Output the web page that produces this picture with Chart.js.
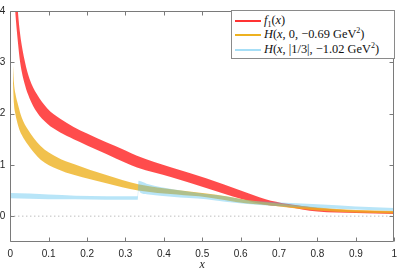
<!DOCTYPE html>
<html>
<head>
<meta charset="utf-8">
<script src="https://cdn.jsdelivr.net/npm/chart.js@4/dist/chart.umd.min.js"></script>
<style>
  html, body { margin: 0; padding: 0; background: #fff; }
  #wrap { position: relative; width: 403px; height: 271px; overflow: hidden; }
  #chart { position: absolute; left: -20px; top: 0; }
  #legend {
    position: absolute; left: 231px; top: 10px; width: 162px; height: 47px;
    border: 1px solid #8a8a8a; background: #fff;
    font-family: "Liberation Serif", "DejaVu Serif", serif; font-size: 12.4px; color: #111;
  }
  #legend .row { position: absolute; left: 0; height: 15px; line-height: 15px; white-space: nowrap; }
  #legend .swatch { position: absolute; left: 3px; top: 7px; width: 26px; height: 2px; }
  #legend .txt { position: absolute; left: 32px; top: 0; }
  #legend sub, #legend sup { font-size: 8px; line-height: 0; }
</style>
</head>
<body>
<div id="wrap">
  <canvas id="chart" width="423" height="275"></canvas>
  <div id="legend">
    <div class="row" style="top:2px"><span class="swatch" style="background:rgba(255,0,0,0.8)"></span><span class="txt"><i>f</i><sub>1</sub>(<i>x</i>)</span></div>
    <div class="row" style="top:16px"><span class="swatch" style="background:rgb(237,177,32)"></span><span class="txt"><i>H</i>(<i>x</i>, 0, −0.69 GeV<sup>2</sup>)</span></div>
    <div class="row" style="top:31px"><span class="swatch" style="background:rgba(77,190,237,0.5)"></span><span class="txt"><i>H</i>(<i>x</i>, |1/3|, −1.02 GeV<sup>2</sup>)</span></div>
  </div>
</div>
<script>
// tick labels
const xTickValues = [0, 0.1, 0.2, 0.3, 0.4, 0.5, 0.6, 0.7, 0.8, 0.9, 1];
const yTickValues = [0, 1, 2, 3, 4];

// f1(x) band
const redX     = [0.01, 0.0128, 0.0197, 0.0256, 0.0384, 0.05, 0.069, 0.0965, 0.13, 0.165, 0.2, 0.25, 0.3, 0.33, 0.42, 0.51, 0.6, 0.665, 0.72, 0.8, 0.9, 1.0];
const redUpper = [5.2, 4.8, 4.0, 3.55, 3.0, 2.68, 2.38, 2.1, 1.9, 1.74, 1.61, 1.44, 1.28, 1.18, 0.95, 0.74, 0.5, 0.33, 0.24, 0.16, 0.11, 0.09];
const redLower = [4.35, 4.0, 3.4, 3.0, 2.55, 2.3, 2.03, 1.8, 1.63, 1.5, 1.38, 1.21, 1.04, 0.95, 0.76, 0.55, 0.34, 0.22, 0.18, 0.09, 0.06, 0.04];

// H(x, 0, -0.69 GeV^2) band
const orangeX     = [0.007, 0.0095, 0.013, 0.021, 0.03, 0.045, 0.079, 0.122, 0.167, 0.25, 0.333, 0.434, 0.511, 0.562, 0.613, 0.69, 0.8, 0.9, 1.0];
const orangeUpper = [2.94, 2.6, 2.4, 2.15, 1.92, 1.7, 1.37, 1.15, 1.01, 0.8, 0.62, 0.51, 0.44, 0.39, 0.32, 0.25, 0.17, 0.12, 0.1];
const orangeLower = [2.6, 2.19, 2.0, 1.75, 1.58, 1.4, 1.1, 0.92, 0.8, 0.64, 0.5, 0.42, 0.37, 0.31, 0.25, 0.2, 0.11, 0.07, 0.05];

// H(x, |1/3|, -1.02 GeV^2) band
const blueX     = [0, 0.05, 0.1, 0.17, 0.25, 0.332, 0.334, 0.34, 0.36, 0.42, 0.51, 0.56, 0.61, 0.69, 0.8, 0.9, 1.0];
const blueUpper = [0.45, 0.44, 0.42, 0.40, 0.39, 0.39, 0.69, 0.68, 0.62, 0.53, 0.43, 0.39, 0.32, 0.27, 0.23, 0.19, 0.16];
const blueLower = [0.35, 0.34, 0.33, 0.33, 0.32, 0.32, 0.5, 0.45, 0.42, 0.38, 0.33, 0.28, 0.24, 0.2, 0.16, 0.13, 0.1];

// dotted zero line
const zeroX = [0, 1];
const zeroY = [0, 0];

const AXIS_COLOR = '#7a7a7a';
const LABEL_COLOR = '#262626';

function pts(xs, ys) {
    return xs.map((x, i) => ({ x: x, y: ys[i] }));
}

function bandEdge(xs, ys, order, fillTo, color) {
    return {
        data: pts(xs, ys),
        borderWidth: 0,
        borderColor: 'rgba(0,0,0,0)',
        backgroundColor: color,
        pointRadius: 0,
        cubicInterpolationMode: 'monotone',
        fill: fillTo,
        order: order
    };
}

// MATLAB-like box with inward ticks
const boxPlugin = {
    id: 'boxTicks',
    afterDatasetsDraw(chart) {
        const { ctx, chartArea: a, scales } = chart;
        const L = Math.round(a.left) + 0.5, R = Math.round(a.right) - 0.5;
        const T = Math.round(a.top) + 0.5, B = Math.round(a.bottom) - 0.5;
        ctx.save();
        ctx.strokeStyle = AXIS_COLOR;
        ctx.lineWidth = 1;
        ctx.beginPath();
        ctx.rect(L, T, R - L, B - T);
        xTickValues.forEach(v => {
            const px = Math.round(scales.x.getPixelForValue(v)) + 0.5;
            ctx.moveTo(px, B); ctx.lineTo(px, B - 4);
            ctx.moveTo(px, T); ctx.lineTo(px, T + 4);
        });
        yTickValues.forEach(v => {
            const py = Math.round(scales.y.getPixelForValue(v)) + 0.5;
            ctx.moveTo(L, py); ctx.lineTo(L + 4, py);
            ctx.moveTo(R, py); ctx.lineTo(R - 4, py);
        });
        ctx.stroke();
        ctx.restore();
    }
};

const ctx = document.getElementById('chart').getContext('2d');
new Chart(ctx, {
    type: 'line',
    data: {
        datasets: [
            bandEdge(redX, redUpper, 3, false, 'rgba(255,0,0,0.7)'),
            bandEdge(redX, redLower, 3, '-1', 'rgba(255,0,0,0.7)'),
            bandEdge(orangeX, orangeUpper, 2, false, 'rgba(237,177,32,0.8)'),
            bandEdge(orangeX, orangeLower, 2, '-1', 'rgba(237,177,32,0.8)'),
            bandEdge(blueX, blueUpper, 1, false, 'rgba(77,190,237,0.4)'),
            bandEdge(blueX, blueLower, 1, '-1', 'rgba(77,190,237,0.4)'),
            {
                data: pts(zeroX, zeroY),
                borderColor: '#a0a0a0',
                borderWidth: 1,
                borderDash: [1, 3],
                pointRadius: 0,
                fill: false,
                order: 4
            }
        ]
    },
    options: {
        responsive: false,
        animation: false,
        events: [],
        layout: {
            autoPadding: false,
            padding: { left: 0, right: 2.7, top: 4, bottom: 0 }
        },
        plugins: {
            legend: { display: false },
            tooltip: { enabled: false }
        },
        scales: {
            x: {
                type: 'linear',
                min: 0,
                max: 1,
                grid: { display: false, drawTicks: false },
                border: { display: false },
                afterBuildTicks: s => { s.ticks = xTickValues.map(v => ({ value: v })); },
                afterFit: s => { s.height = 33.2; },
                ticks: {
                    padding: 6,
                    maxRotation: 0,
                    autoSkip: false,
                    color: LABEL_COLOR,
                    font: { family: 'Liberation Sans, Arial, sans-serif', size: 10 },
                    callback: v => String(+v.toFixed(1))
                },
                title: {
                    display: true,
                    text: 'x',
                    color: LABEL_COLOR,
                    padding: { top: 0, bottom: 2.8 },
                    font: { family: 'Liberation Serif, serif', style: 'italic', size: 12 }
                }
            },
            y: {
                type: 'linear',
                min: -0.5,
                max: 4,
                grid: { display: false, drawTicks: false },
                border: { display: false },
                afterBuildTicks: s => { s.ticks = yTickValues.map(v => ({ value: v })); },
                afterFit: s => { s.width = 30.3; },
                ticks: {
                    padding: 5,
                    color: LABEL_COLOR,
                    font: { family: 'Liberation Sans, Arial, sans-serif', size: 10 }
                }
            }
        }
    },
    plugins: [boxPlugin]
});
</script>
</body>
</html>
